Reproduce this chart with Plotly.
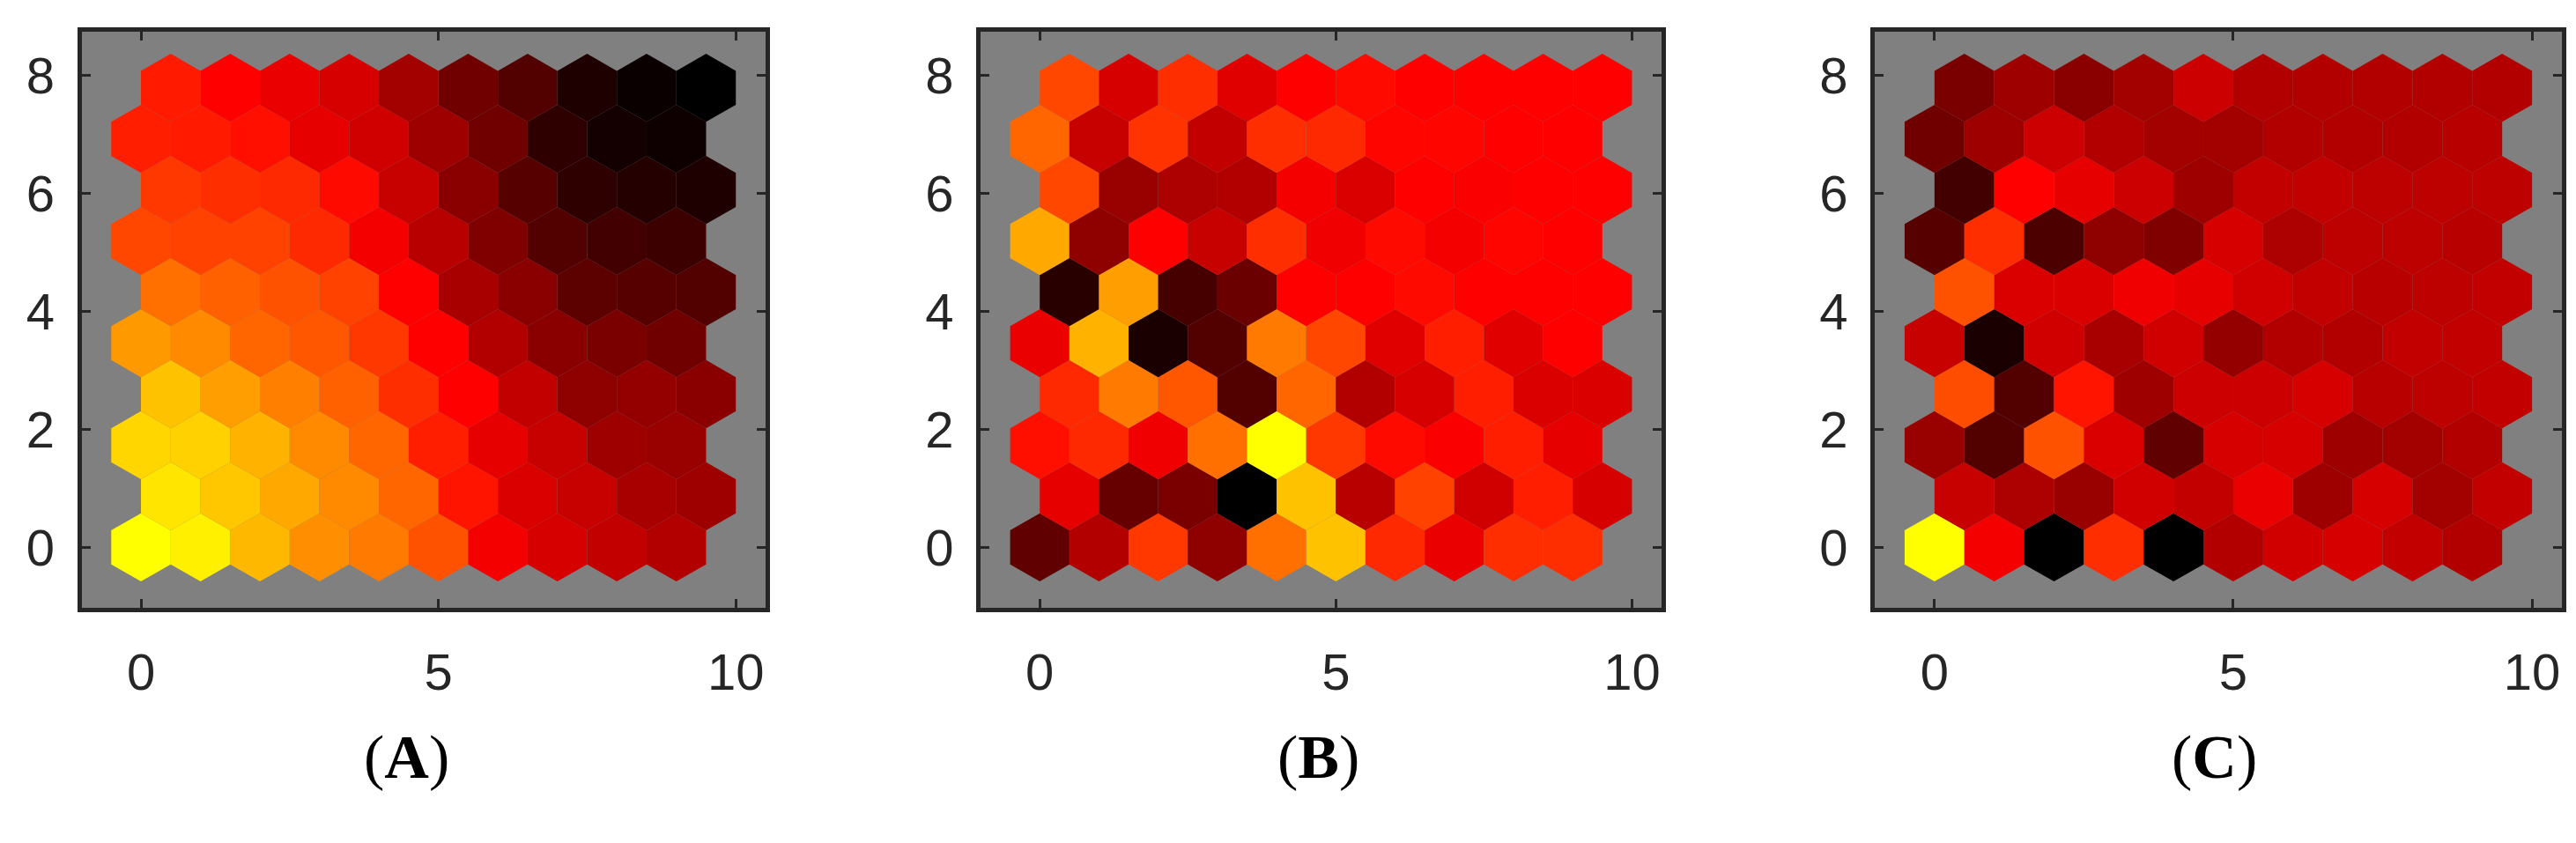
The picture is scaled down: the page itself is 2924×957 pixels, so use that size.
import numpy as np
import plotly.graph_objects as go
from plotly.colors import sample_colorscale

# values 0..100 : 0 black, 50 red, 100 yellow ; rows bottom (0) to top (9), cols 0..9
panel_A = [
 [100,97,86,78,74,66,48,42,38,35],
 [95,89,83,77,70,54,43,39,33,31],
 [92,91,85,77,70,56,45,39,31,30],
 [88,81,75,69,59,50,38,28,29,27],
 [80,77,70,67,61,50,35,27,24,22],
 [72,69,66,63,50,33,27,18,17,16],
 [64,63,63,58,48,36,25,16,13,12],
 [61,59,58,52,39,27,17,9,7,6],
 [56,55,53,45,41,31,22,9,4,3],
 [55,50,46,42,32,22,16,6,2,0],
]
panel_B = [
 [19,35,61,28,72,88,58,46,59,59],
 [45,20,24,0,88,36,63,41,56,42],
 [53,58,47,72,100,61,52,49,56,45],
 [58,74,67,16,70,35,42,56,43,43],
 [46,85,5,16,74,64,44,56,44,50],
 [8,81,14,21,50,50,52,50,50,50],
 [83,28,50,39,59,47,52,48,51,50],
 [64,30,34,35,48,43,50,49,50,50],
 [70,39,60,38,59,58,51,51,50,50],
 [64,42,59,44,50,52,50,50,50,50],
]
panel_C = [
 [100,48,0,59,0,35,41,42,38,35],
 [39,34,30,41,38,46,31,42,32,38],
 [30,16,66,43,19,42,42,31,32,35],
 [65,16,54,31,40,40,42,36,37,38],
 [39,5,41,33,41,29,35,35,38,38],
 [66,43,43,47,45,41,38,36,37,38],
 [17,59,15,28,25,42,34,37,37,36],
 [13,50,45,40,31,38,38,37,37,37],
 [22,31,40,35,32,32,35,35,35,36],
 [24,31,27,32,40,35,35,35,35,35],
]
panels = [panel_A, panel_B, panel_C]
labels = ["A", "B", "C"]
label_x = [0.155, 0.509, 0.857]

hot = [[0, "rgb(0,0,0)"], [0.5, "rgb(255,0,0)"], [1, "rgb(255,255,0)"]]
R = 1 / np.sqrt(3)
ang = np.deg2rad(np.arange(30, 390, 60))
hx, hy = R * np.cos(ang), R * np.sin(ang)

x_domains = [[84.5/2924, 861/2924], [1105/2924, 1878/2924], [2120/2924, 2900/2924]]
y_domain = [0.287, 0.971]

fig = go.Figure()
layout = dict(width=2924, height=957, margin=dict(l=0, r=0, t=0, b=0),
              paper_bgcolor="white", showlegend=False)
annotations = []
for i, vals in enumerate(panels):
    sx = "" if i == 0 else str(i + 1)
    for r, row in enumerate(vals):
        for c, v in enumerate(row):
            cx = c + 0.5 * (r % 2)
            cy = r * np.sqrt(3) / 2
            col = sample_colorscale(hot, v / 100)[0]
            fig.add_trace(go.Scatter(x=cx + hx, y=cy + hy, mode="lines", fill="toself",
                                     fillcolor=col, line=dict(width=0, color=col),
                                     hoverinfo="skip", xaxis="x" + sx, yaxis="y" + sx))
    ax = dict(domain=x_domains[i], range=[-1, 10.5], tickvals=[0, 5, 10],
              ticks="inside", ticklen=10, tickwidth=3, tickcolor="#262626",
              showline=True, linewidth=5, linecolor="#262626", mirror="ticks",
              showgrid=False, zeroline=False, ticklabelstandoff=18,
              tickfont=dict(family="Liberation Sans", size=58, color="#262626"))
    ay = dict(ax)
    ay.update(domain=y_domain, range=[-1.03, 8.75], tickvals=[0, 2, 4, 6, 8],
              anchor="x" + sx, ticklabelstandoff=14)
    ax["anchor"] = "y" + sx
    layout["xaxis" + sx] = ax
    layout["yaxis" + sx] = ay
    annotations.append(dict(text="(<b>%s</b>)" % labels[i], xref="paper", yref="paper",
                            x=label_x[i], y=0.11, xanchor="center", yanchor="middle",
                            showarrow=False,
                            font=dict(family="Liberation Serif", size=70, color="black")))
layout["annotations"] = annotations
layout["plot_bgcolor"] = "#808080"
fig.update_layout(**layout)
fig.write_html("out.html")
